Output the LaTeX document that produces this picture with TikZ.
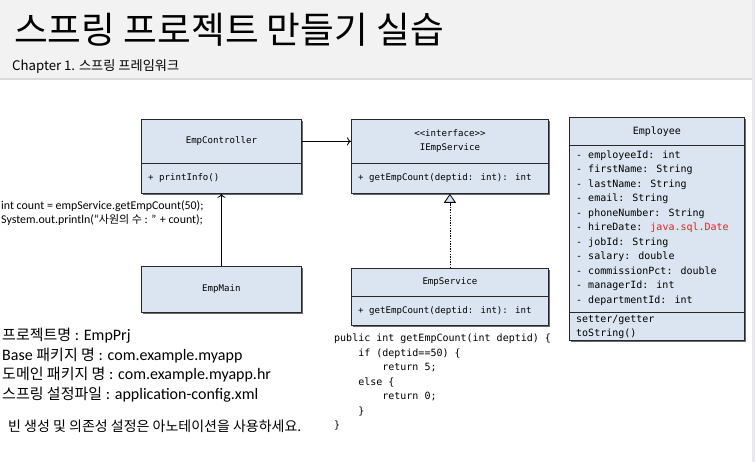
\documentclass[tikz,border=0pt]{standalone}
\usepackage{fontspec}
\setmainfont{Carlito}
\newfontfamily\kr{Noto Sans CJK KR}
\newfontfamily\mono{DejaVu Sans Mono}
\usetikzlibrary{arrows.meta,shadows}

\definecolor{umlfill}{RGB}{219,229,241}
\definecolor{boxline}{RGB}{40,40,40}
\definecolor{headfill}{RGB}{242,242,242}
\definecolor{headrule}{RGB}{218,218,218}
\definecolor{sidestrip}{RGB}{232,232,238}
\definecolor{typered}{RGB}{236,28,36}

\tikzset{
  umlpart/.style={rectangle, draw=boxline, fill=umlfill, line width=0.8pt,
    inner sep=0pt, anchor=north west,
    drop shadow={shadow xshift=1.6pt, shadow yshift=-1.6pt, fill=black!65, opacity=0.9}},
  umltitle/.style={font=\mono\fontsize{9.1}{14}\selectfont, align=center},
  member/.style={font=\mono\fontsize{9.1}{12}\selectfont, inner sep=0pt, anchor=west},
  emptext/.style={font=\mono\fontsize{10}{14.5}\selectfont, inner sep=0pt,
    anchor=north west, align=left},
  assoc/.style={line width=0.8pt, draw=black, -{To[length=4pt,width=8pt]}},
  realize/.style={line width=0.8pt, draw=black, dash pattern=on 1.4pt off 1.2pt,
    -{Triangle[length=9pt,width=12pt,fill=umlfill,line width=0.8pt]}},
}

\begin{document}
\begin{tikzpicture}[x=1pt,y=-1pt]
  \useasboundingbox (0,0) rectangle (755,462);
  \fill[white] (0,0) rectangle (755,462);

  % header band
  \fill[headfill] (0,0) rectangle (755,78);
  \fill[headrule] (0,78) rectangle (755,80);
  \fill[sidestrip] (752,0) rectangle (755,462);
  \node[anchor=base west, inner sep=0pt, font=\kr\fontsize{36.7}{38}\selectfont]
    (title) at (14,44) {스프링 프로젝트 만들기 실습};
  \node[anchor=base west, inner sep=0pt, font=\kr\fontsize{13.2}{15}\selectfont]
    (chapter) at (12,71) {Chapter 1. 스프링 프레임워크};

  % EmpController
  \node[umlpart, minimum width=160pt, minimum height=44pt, umltitle]
    (ctrlT) at (141,119) {EmpController};
  \node[umlpart, minimum width=160pt, minimum height=30pt]
    (ctrlM) at (141,163) {};
  \node[member] (ctrlOp) at ([xshift=7pt]ctrlM.west) {+ printInfo()};

  % IEmpService
  \node[umlpart, minimum width=197pt, minimum height=44pt, umltitle]
    (ifaceT) at (351,119) {<{}<interface>{}>\\IEmpService};
  \node[umlpart, minimum width=197pt, minimum height=30pt]
    (ifaceM) at (351,163) {};
  \node[member] (ifaceOp) at ([xshift=7pt]ifaceM.west) {+ getEmpCount(deptid: int): int};

  % EmpMain
  \node[umlpart, minimum width=160pt, minimum height=46pt, umltitle]
    (main) at (141,266) {EmpMain};

  % EmpService
  \node[umlpart, minimum width=197pt, minimum height=28pt, umltitle]
    (svcT) at (351,268) {EmpService};
  \node[umlpart, minimum width=197pt, minimum height=29pt]
    (svcM) at (351,296) {};
  \node[member] (svcOp) at ([xshift=7pt]svcM.west) {+ getEmpCount(deptid: int): int};

  % Employee
  \node[umlpart, minimum width=175pt, minimum height=28pt,
    font=\mono\fontsize{10}{12}\selectfont]
    (empT) at (569,117) {Employee};
  \node[umlpart, minimum width=175pt, minimum height=167pt]
    (empA) at (569,145) {};
  \node[umlpart, minimum width=175pt, minimum height=28pt]
    (empO) at (569,312) {};
  \node[emptext] (empAttr) at (576,150.5) {%
    - employeeId: int\\
    - firstName: String\\
    - lastName: String\\
    - email: String\\
    - phoneNumber: String\\
    - hireDate: \textcolor{typered}{java.sql.Date}\\
    - jobId: String\\
    - salary: double\\
    - commissionPct: double\\
    - managerId: int\\
    - departmentId: int};
  \node[emptext] (empOps) at (576,315) {setter/getter\\toString()};

  % connectors
  \draw[assoc] (ctrlT.east) -- (ifaceT.west);
  \draw[assoc] (main.north) -- (ctrlM.south);
  \draw[realize] (svcT.north) -- (ifaceM.south);

  % calling code next to EmpMain
  \node[anchor=base west, inner sep=0pt, font=\fontsize{11.9}{13}\selectfont]
    (call1) at (1,209.5) {int count = empService.getEmpCount(50);};
  \node[anchor=base west, inner sep=0pt, font=\fontsize{11.9}{13}\selectfont]
    (call2) at (1,224) {System.out.println(“{\kr\fontsize{11}{13}\selectfont 사원의 수} : ” + count);};

  % project notes
  \node[anchor=north west, inner sep=0pt, align=left,
    font=\fontsize{16}{19.6}\selectfont] (notes) at (2,328) {%
    {\kr\fontsize{15}{19.6}\selectfont 프로젝트명} : EmpPrj\\
    Base {\kr\fontsize{15}{19.6}\selectfont 패키지 명} : com.example.myapp\\
    {\kr\fontsize{15}{19.6}\selectfont 도메인 패키지 명} : com.example.myapp.hr\\
    {\kr\fontsize{15}{19.6}\selectfont 스프링 설정파일} : application-config.xml};
  \node[anchor=base west, inner sep=0pt, font=\kr\fontsize{14}{16}\selectfont]
    (hint) at (8,431) {빈 생성 및 의존성 설정은 아노테이션을 사용하세요.};

  % implementation code
  \node[anchor=north west, inner sep=0pt, align=left,
    font=\mono\fontsize{10}{14.5}\selectfont] (impl) at (334,334) {%
    public int getEmpCount(int deptid) \{\\
    \phantom{0000}if (deptid==50) \{\\
    \phantom{00000000}return 5;\\
    \phantom{0000}else \{\\
    \phantom{00000000}return 0;\\
    \phantom{0000}\}\\
    \}};
\end{tikzpicture}
\end{document}
